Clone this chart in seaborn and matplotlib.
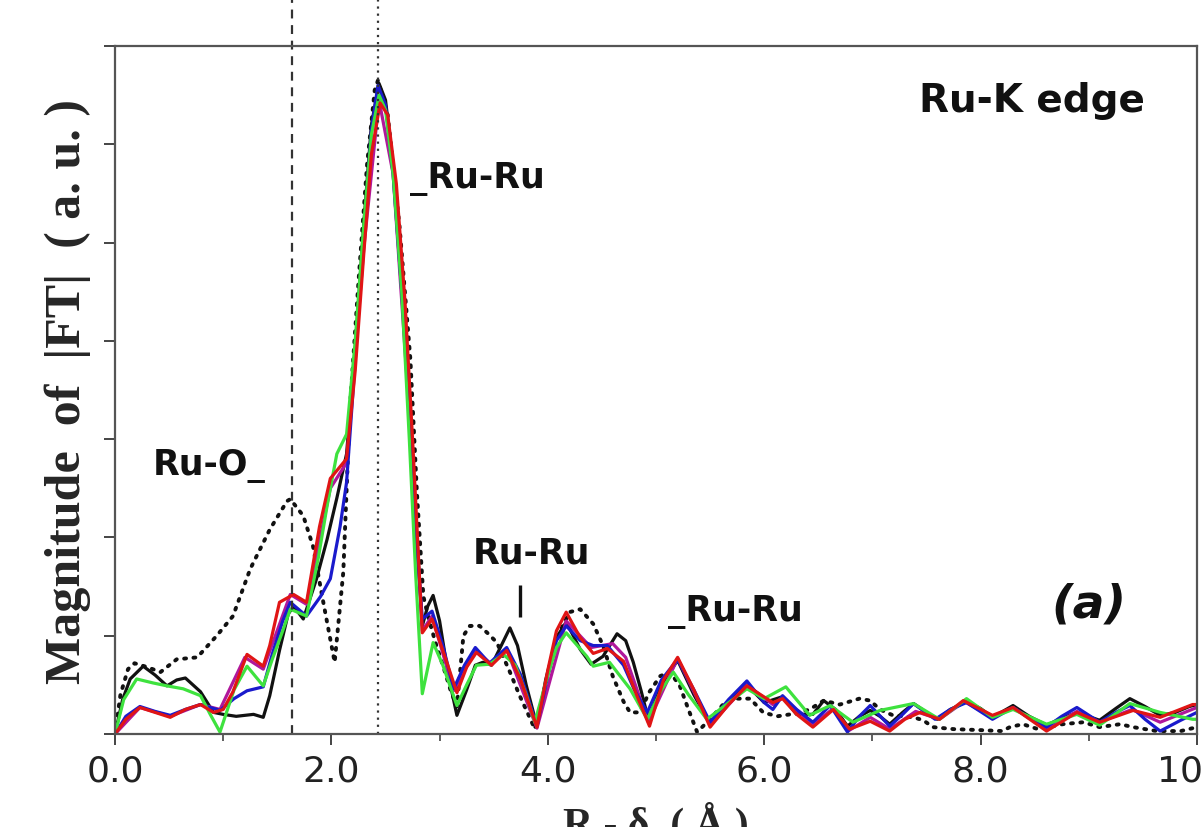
import pandas as pd
import matplotlib
matplotlib.use("Agg")
import matplotlib.pyplot as plt
import seaborn as sns

# Ru-K edge |FT| curves
ref_r = [0.0, 0.05, 0.12, 0.18, 0.3, 0.42, 0.57, 0.76, 0.94, 1.09, 1.25, 1.43, 1.59, 1.62, 1.74, 1.83,
         1.92, 2.03, 2.11, 2.17, 2.25, 2.33, 2.40, 2.43, 2.52, 2.63, 2.73, 2.79, 2.85, 2.9, 2.97,
         3.03, 3.1, 3.16, 3.22, 3.28, 3.37, 3.45, 3.53, 3.65, 3.74, 3.84, 3.88, 3.99, 4.08, 4.2,
         4.3, 4.42, 4.51, 4.6, 4.7, 4.76, 4.85, 4.94, 5.04, 5.13, 5.22, 5.3, 5.38, 5.5, 5.62, 5.75,
         5.87, 5.99, 6.12, 6.3, 6.42, 6.55, 6.7, 6.88, 6.98, 7.07, 7.19, 7.38, 7.47, 7.56, 7.75,
         7.99, 8.2, 8.27, 8.39, 8.53, 8.76, 8.95, 9.1, 9.29, 9.41, 9.63, 9.85, 10.0]
ref_ft = [0.0, 0.4, 0.66, 0.72, 0.68, 0.63, 0.76, 0.78, 1.0, 1.2, 1.68, 2.08, 2.37, 2.39, 2.22, 1.91,
          1.37, 0.73, 1.65, 3.3, 4.6, 5.8, 6.55, 6.65, 6.3, 5.16, 3.81, 2.46, 1.4, 1.17, 0.9,
          0.7, 0.45, 0.28, 1.0, 1.1, 1.1, 1.02, 0.93, 0.63, 0.39, 0.15, 0.05, 0.56, 0.97, 1.24,
          1.27, 1.12, 0.9, 0.59, 0.33, 0.22, 0.22, 0.43, 0.59, 0.63, 0.49, 0.25, 0.02, 0.15, 0.3, 0.36,
          0.36, 0.22, 0.18, 0.21, 0.25, 0.34, 0.3, 0.36, 0.34, 0.25, 0.19, 0.17, 0.14, 0.07, 0.05,
          0.04, 0.03, 0.07, 0.1, 0.05, 0.1, 0.12, 0.07, 0.1, 0.07, 0.03, 0.03, 0.07]

black_r = [0.0, 0.07, 0.14, 0.26, 0.37, 0.48, 0.57, 0.65, 0.79, 0.91, 1.0, 1.12, 1.28, 1.37, 1.43,
           1.52, 1.6, 1.65, 1.74, 1.86, 1.96, 2.05, 2.14, 2.22, 2.3, 2.37, 2.44, 2.5, 2.57, 2.65,
           2.73, 2.79, 2.84, 2.89, 2.94, 3.0, 3.08, 3.16, 3.25, 3.33, 3.4, 3.48, 3.57, 3.65, 3.72,
           3.8, 3.9, 3.98, 4.08, 4.17, 4.3, 4.4, 4.51, 4.64, 4.72, 4.79, 4.86, 4.93, 5.05, 5.2, 5.35,
           5.5, 5.65, 5.84, 6.0, 6.17, 6.3, 6.45, 6.55, 6.66, 6.77, 6.88, 6.98, 7.07, 7.16, 7.28,
           7.38, 7.5, 7.6, 7.72, 7.87, 8.0, 8.11, 8.3, 8.45, 8.61, 8.75, 8.89, 9.1, 9.25, 9.38, 9.52,
           9.66, 9.8, 9.93, 10.0]
black_ft = [0.0, 0.35, 0.56, 0.69, 0.6, 0.49, 0.55, 0.57, 0.43, 0.22, 0.2, 0.18, 0.2, 0.17, 0.39,
            0.85, 1.22, 1.3, 1.17, 1.57, 1.98, 2.4, 2.85, 3.9, 5.2, 6.2, 6.62, 6.45, 5.8, 4.6,
            3.2, 2.0, 1.1, 1.3, 1.41, 1.15, 0.6, 0.19, 0.45, 0.7, 0.73, 0.7, 0.9, 1.08, 0.9,
            0.5, 0.08, 0.55, 0.98, 1.14, 0.86, 0.71, 0.79, 1.02, 0.95, 0.73, 0.45, 0.15, 0.5, 0.75, 0.4,
            0.1, 0.3, 0.5, 0.32, 0.38, 0.2, 0.2, 0.34, 0.25, 0.08, 0.18, 0.24, 0.18, 0.1, 0.22,
            0.31, 0.22, 0.15, 0.25, 0.33, 0.26, 0.17, 0.29, 0.18, 0.09, 0.16, 0.22, 0.14, 0.26, 0.36, 0.28,
            0.19, 0.22, 0.28, 0.3]

magenta_r = [0.0, 0.23, 0.51, 0.79, 0.97, 1.2, 1.37, 1.62, 1.77, 1.99, 2.14, 2.3, 2.44, 2.57, 2.73,
             2.84, 2.93, 3.13, 3.33, 3.47, 3.62, 3.9, 4.17, 4.4, 4.6, 4.72, 4.93, 5.2, 5.5, 5.84,
             6.08, 6.17, 6.45, 6.64, 6.79, 6.98, 7.16, 7.4, 7.62, 7.85, 8.11, 8.3, 8.61, 8.89, 9.1,
             9.4, 9.66, 10.0]
magenta_ft = [0.0, 0.27, 0.18, 0.3, 0.25, 0.78, 0.66, 1.42, 1.32, 2.5, 2.76, 4.95, 6.45, 5.7, 3.1,
              1.05, 1.2, 0.44, 0.85, 0.72, 0.86, 0.06, 1.15, 0.88, 0.92, 0.78, 0.12, 0.77, 0.09, 0.5,
              0.3, 0.37, 0.1, 0.26, 0.04, 0.17, 0.05, 0.23, 0.15, 0.33, 0.17, 0.27, 0.05, 0.23, 0.12,
              0.25, 0.12, 0.27]

blue_r = [0.0, 0.1, 0.23, 0.37, 0.51, 0.65, 0.79, 0.97, 1.1, 1.22, 1.37, 1.45, 1.55, 1.62, 1.77,
          1.9, 1.99, 2.08, 2.14, 2.22, 2.3, 2.37, 2.43, 2.5, 2.57, 2.65, 2.73, 2.79, 2.84, 2.93,
          3.03, 3.13, 3.23, 3.33, 3.46, 3.62, 3.75, 3.9, 4.0, 4.08, 4.17, 4.3, 4.42, 4.55, 4.7,
          4.8, 4.92, 5.05, 5.2, 5.35, 5.5, 5.67, 5.84, 6.0, 6.08, 6.17, 6.3, 6.45, 6.61, 6.77, 6.88,
          6.98, 7.16, 7.28, 7.38, 7.58, 7.72, 7.87, 8.11, 8.3, 8.45, 8.61, 8.75, 8.89, 9.1, 9.25,
          9.38, 9.52, 9.66, 9.85, 10.0]
blue_ft = [0.0, 0.18, 0.28, 0.23, 0.19, 0.25, 0.3, 0.24, 0.36, 0.44, 0.48, 0.8, 1.15, 1.34, 1.2,
           1.4, 1.58, 2.11, 2.56, 3.8, 5.1, 6.15, 6.6, 6.4, 5.7, 4.5, 3.1, 1.9, 1.17, 1.25,
           0.9, 0.46, 0.7, 0.88, 0.72, 0.88, 0.6, 0.08, 0.6, 0.95, 1.1, 0.95, 0.9, 0.9, 0.7,
           0.45, 0.22, 0.55, 0.76, 0.45, 0.12, 0.35, 0.54, 0.32, 0.25, 0.39, 0.25, 0.12, 0.29, 0.02, 0.18,
           0.29, 0.08, 0.2, 0.31, 0.15, 0.25, 0.32, 0.15, 0.27, 0.16, 0.07, 0.18, 0.27, 0.12, 0.22,
           0.29, 0.15, 0.03, 0.14, 0.22]

green_r = [0.0, 0.08, 0.2, 0.35, 0.48, 0.63, 0.79, 0.88, 0.97, 1.1, 1.22, 1.37, 1.45, 1.55, 1.62,
           1.77, 1.88, 1.96, 2.05, 2.14, 2.22, 2.3, 2.37, 2.44, 2.5, 2.57, 2.65, 2.72, 2.78, 2.84,
           2.94, 3.03, 3.16, 3.25, 3.34, 3.46, 3.59, 3.7, 3.8, 3.88, 4.0, 4.08, 4.17, 4.36, 4.42,
           4.57, 4.76, 4.92, 5.05, 5.16, 5.3, 5.47, 5.65, 5.84, 6.0, 6.2, 6.42, 6.61, 6.82, 7.07,
           7.38, 7.62, 7.87, 8.11, 8.3, 8.61, 8.89, 9.1, 9.38, 9.66, 9.96, 10.0]
green_ft = [0.0, 0.35, 0.56, 0.52, 0.49, 0.46, 0.39, 0.2, 0.02, 0.45, 0.69, 0.49, 0.75, 1.05, 1.27,
            1.2, 1.8, 2.32, 2.85, 3.05, 4.0, 5.2, 6.1, 6.5, 6.35, 5.7, 4.5, 3.0, 1.6, 0.41,
            0.93, 0.7, 0.29, 0.5, 0.7, 0.71, 0.81, 0.7, 0.4, 0.12, 0.6, 0.88, 1.03, 0.79, 0.69,
            0.73, 0.46, 0.15, 0.45, 0.63, 0.4, 0.15, 0.3, 0.46, 0.36, 0.48, 0.19, 0.29, 0.12, 0.24,
            0.31, 0.15, 0.36, 0.17, 0.25, 0.1, 0.2, 0.09, 0.31, 0.22, 0.15, 0.15]

red_r = [0.0, 0.1, 0.23, 0.37, 0.51, 0.65, 0.79, 0.91, 1.0, 1.09, 1.22, 1.37, 1.43, 1.52, 1.65,
         1.77, 1.89, 1.99, 2.08, 2.14, 2.22, 2.3, 2.37, 2.45, 2.52, 2.6, 2.68, 2.75, 2.8, 2.84,
         2.93, 3.03, 3.16, 3.25, 3.34, 3.48, 3.62, 3.75, 3.9, 4.0, 4.08, 4.17, 4.3, 4.42, 4.55,
         4.7, 4.82, 4.94, 5.07, 5.2, 5.35, 5.5, 5.67, 5.84, 6.08, 6.17, 6.3, 6.45, 6.64, 6.79, 6.98,
         7.16, 7.3, 7.44, 7.62, 7.84, 8.11, 8.3, 8.61, 8.89, 9.1, 9.41, 9.66, 9.96, 10.0]
red_ft = [0.0, 0.15, 0.27, 0.22, 0.17, 0.25, 0.3, 0.22, 0.25, 0.43, 0.81, 0.69, 0.9, 1.34, 1.42,
          1.34, 2.11, 2.6, 2.72, 2.8, 3.7, 4.9, 5.9, 6.42, 6.3, 5.6, 4.4, 3.0, 1.9, 1.03,
          1.17, 0.85, 0.42, 0.68, 0.83, 0.7, 0.85, 0.55, 0.07, 0.65, 1.05, 1.24, 0.98, 0.82, 0.87,
          0.74, 0.4, 0.08, 0.55, 0.78, 0.45, 0.07, 0.3, 0.49, 0.32, 0.36, 0.2, 0.07, 0.25, 0.05, 0.13,
          0.03, 0.15, 0.22, 0.15, 0.34, 0.19, 0.27, 0.03, 0.22, 0.12, 0.24, 0.17, 0.3, 0.3]

# reference line positions (Ru-O and Ru-Ru first shells)
ru_o_line = 1.64
ru_ru_line = 2.43

solid = [
    ("black", black_r, black_ft, "#111111"),
    ("magenta", magenta_r, magenta_ft, "#b0179b"),
    ("blue", blue_r, blue_ft, "#1a1acc"),
    ("green", green_r, green_ft, "#3ee23e"),
    ("red", red_r, red_ft, "#e01515"),
]

sns.set_style("white")

fig = plt.figure(figsize=(12.02, 8.28), dpi=100)
ax = fig.add_axes([0.0957, 0.1123, 0.9001, 0.8309])

ref_df = pd.DataFrame({"r": ref_r, "ft": ref_ft})
sns.lineplot(data=ref_df, x="r", y="ft", ax=ax, color="#111111", lw=2.8,
             estimator=None, sort=False)
ax.lines[-1].set_dashes([0.5, 1.9])
ax.lines[-1].set_dash_capstyle("round")

for name, r, ft, col in solid:
    df = pd.DataFrame({"r": r, "ft": ft})
    sns.lineplot(data=df, x="r", y="ft", ax=ax, color=col, lw=2.3,
                 estimator=None, sort=False)

ax.axvline(ru_o_line, ymin=0, ymax=1.07, color="#333333", lw=1.6,
           ls=(0, (4, 3)), clip_on=False)
ax.axvline(ru_ru_line, ymin=0, ymax=1.07, color="#333333", lw=1.6,
           ls=(0, (1, 2.2)), clip_on=False)

ax.set_xlim(0, 10)
ax.set_ylim(0, 7)
ax.set_xticks(range(0, 11, 2))
ax.set_xticklabels([f"{v:.1f}" for v in range(0, 11, 2)], fontsize=26,
                   family="DejaVu Sans", color="#222222")
ax.set_xticks(range(1, 11, 2), minor=True)
ax.set_yticks(range(0, 8))
ax.set_yticklabels([])
ax.tick_params(axis="both", which="major", direction="out", length=8, width=1.4,
               color="#444444", bottom=True, left=True)
ax.tick_params(axis="x", which="minor", direction="out", length=5, width=1.2,
               color="#444444", bottom=True)
ax.tick_params(axis="x", pad=6)
for sp in ax.spines.values():
    sp.set_color("#555555")
    sp.set_linewidth(1.6)

ax.set_xlabel("R - δ, ( Å )", fontsize=30, fontweight="bold",
              family="Liberation Serif", labelpad=10)
ax.set_ylabel("Magnitude  of  |FT|  ( a. u. )", fontsize=36, fontweight="bold",
              family="Liberation Serif")
ax.yaxis.set_label_coords(-0.022, 0.5)

lab = dict(fontsize=25, fontweight="bold", family="DejaVu Sans", color="#111111")
ax.text(9.52, 6.45, "Ru-K edge", ha="right", va="center",
        fontsize=28, fontweight="bold", family="DejaVu Sans", color="#111111")
ax.text(2.73, 5.66, "_Ru-Ru", ha="left", va="center", **lab)
ax.text(0.35, 2.74, "Ru-O_", ha="left", va="center", **lab)
ax.text(3.85, 1.85, "Ru-Ru", ha="center", va="center", **lab)
ax.vlines(3.74, 1.19, 1.52, color="#111111", lw=2.4)
ax.text(5.11, 1.25, "_Ru-Ru", ha="left", va="center", **lab)
ax.text(9.0, 1.32, "(a)", ha="center", va="center", fontsize=34,
        fontweight="bold", style="italic", family="DejaVu Sans", color="#111111")

fig.savefig("out.png", dpi=100)
